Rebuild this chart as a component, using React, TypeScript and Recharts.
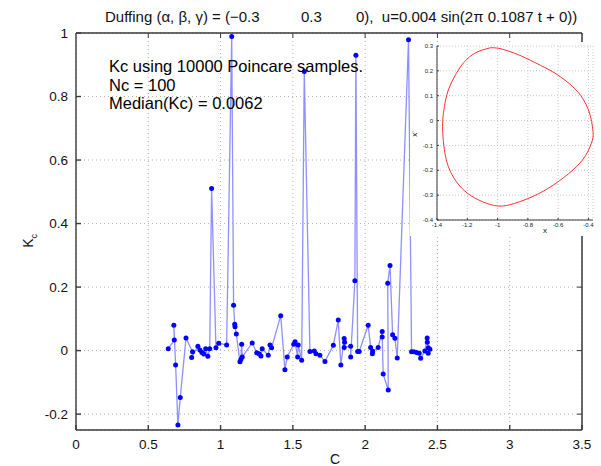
import { CartesianGrid, Line, LineChart, XAxis, YAxis } from "recharts";

const cValues = [
  0.638, 0.68, 0.677, 0.689, 0.705, 0.721, 0.761, 0.806, 0.8, 0.843, 0.857, 0.871, 0.884, 0.897,
  0.912, 0.925, 0.938, 0.968, 0.987, 1.042, 1.077, 1.09, 1.098, 1.1, 1.109, 1.134, 1.141, 1.146,
  1.15, 1.219, 1.25, 1.266, 1.279, 1.288, 1.33, 1.342, 1.353, 1.416, 1.445, 1.461, 1.506, 1.515,
  1.533, 1.537, 1.561, 1.579, 1.618, 1.648, 1.66, 1.687, 1.722, 1.78, 1.814, 1.832, 1.855, 1.858,
  1.855, 1.9, 1.9, 1.929, 1.936, 1.948, 1.959, 2.021, 2.038, 2.05, 2.052, 2.09, 2.118, 2.118,
  2.125, 2.16, 2.156, 2.172, 2.19, 2.206, 2.222, 2.3, 2.321, 2.337, 2.356, 2.374, 2.384, 2.413,
  2.429, 2.43, 2.437, 2.436, 2.448,
];
const kcValues = [
  0.006, 0.033, 0.08, -0.045, -0.234, -0.148, 0.04, -0.004, -0.022, 0.014, 0.002, -0.006, -0.011,
  0.006, -0.018, 0.006, 0.51, 0.009, 0.023, 0.018, 0.989, 0.143, 0.083, 0.075, 0.052, -0.035,
  -0.027, 0.02, -0.02, 0.024, -0.007, -0.01, -0.017, 0.006, -0.015, 0.018, 0.009, 0.11, -0.06,
  -0.02, 0.02, 0.028, -0.02, 0.018, -0.03, 0.879, -0.003, -0.001, -0.01, -0.015, -0.034, 0.017,
  0.096, -0.045, 0.038, 0.026, 0.01, 0.014, -0.02, 0.22, 0.93, -0.003, -0.003, 0.08, 0.01, -0.01,
  -0.002, 0.01, 0.06, 0.043, -0.074, -0.124, 0.212, 0.268, 0.05, 0.039, -0.023, 0.979, -0.004,
  -0.004, -0.006, -0.008, -0.024, -0.001, 0.04, 0.026, 0.009, -0.008, 0.004,
];
const cTicks = [0, 0.5, 1, 1.5, 2, 2.5, 3, 3.5];
const kcTicks = [-0.2, 0, 0.2, 0.4, 0.6, 0.8, 1];
const C_MAX = 3.5;
const KC_MIN = -0.25;
const KC_MAX = 1;

// inset: phase portrait (x, x')
const orbitX = [
  -1.047, -1.144, -1.218, -1.272, -1.325, -1.351, -1.362, -1.362, -1.351, -1.325, -1.272, -1.197,
  -1.101, -0.994, -0.887, -0.759, -0.631, -0.503, -0.417, -0.374, -0.37, -0.379, -0.4, -0.438,
  -0.503, -0.609, -0.716, -0.844, -0.93, -0.994, -1.047,
];
const orbitV = [
  0.293, 0.273, 0.237, 0.19, 0.123, 0.056, 0.002, -0.051, -0.118, -0.185, -0.246, -0.293, -0.326,
  -0.344, -0.333, -0.303, -0.259, -0.199, -0.139, -0.078, -0.044, -0.004, 0.043, 0.089, 0.136,
  0.186, 0.222, 0.26, 0.28, 0.291, 0.293,
];
const orbitXTicks = [-1.4, -1.2, -1, -0.8, -0.6, -0.4];
const orbitVTicks = [-0.4, -0.3, -0.2, -0.1, 0, 0.1, 0.2, 0.3];

const FONT = '"Liberation Sans", Arial, Helvetica, sans-serif';
const AXIS = "#3a3a3a";

// main chart layout
const W = 601;
const H = 466;
const M = { top: 33, right: 19, bottom: 6, left: 36 };
const Y_AXIS_W = 40;
const X_AXIS_H = 30;
const PLOT_L = M.left + Y_AXIS_W;
const PLOT_T = M.top;
const PLOT_W = W - PLOT_L - M.right;
const PLOT_H = H - PLOT_T - M.bottom - X_AXIS_H;

const kcData = cValues.map((c, i) => ({ c, kc: kcValues[i] }));
const orbitData = orbitX.map((x, i) => ({ x, v: orbitV[i] }));
const fmt = (v: number) => String(v);

// top/right edges of the MATLAB-style box, with inward ticks
function BoxFrame() {
  const R = PLOT_L + PLOT_W;
  return (
    <svg width={W} height={H} style={{ position: "absolute", left: 0, top: 0, pointerEvents: "none" }}>
      <g stroke={AXIS} fill="none">
        <line x1={PLOT_L} y1={PLOT_T} x2={R} y2={PLOT_T} strokeWidth={1.5} />
        <line x1={R} y1={PLOT_T} x2={R} y2={PLOT_T + PLOT_H} strokeWidth={1.5} />
        {cTicks.slice(1, -1).map((t) => {
          const x = PLOT_L + (t / C_MAX) * PLOT_W;
          return <line key={`t${t}`} x1={x} y1={PLOT_T} x2={x} y2={PLOT_T + 5} />;
        })}
        {kcTicks.slice(0, -1).map((t) => {
          const y = PLOT_T + ((KC_MAX - t) / (KC_MAX - KC_MIN)) * PLOT_H;
          return <line key={`r${t}`} x1={R} y1={y} x2={R - 5} y2={y} />;
        })}
      </g>
    </svg>
  );
}

function Inset() {
  return (
    <div style={{ position: "absolute", left: 410, top: 42, width: 191, height: 194, background: "#fff" }}>
      <LineChart width={191} height={194} data={orbitData} margin={{ top: 4, right: 8, bottom: 4, left: 7 }}>
        <CartesianGrid stroke="#c8c8c8" strokeDasharray="1 2" />
        <XAxis
          dataKey="x"
          type="number"
          domain={[-1.4, -0.4]}
          ticks={orbitXTicks}
          interval={0}
          tickFormatter={fmt}
          height={12}
          tickSize={-2}
          tickMargin={5}
          stroke={AXIS}
          tick={{ fontSize: 6, fill: "#222", fontFamily: FONT }}
        />
        <YAxis
          type="number"
          domain={[-0.4, 0.3]}
          ticks={orbitVTicks}
          interval={0}
          tickFormatter={fmt}
          width={20}
          tickSize={-2}
          tickMargin={6}
          stroke={AXIS}
          tick={{ fontSize: 6, fill: "#222", fontFamily: FONT }}
        />
        <Line dataKey="v" type="natural" stroke="#ff1a1a" strokeWidth={0.9} dot={false} isAnimationActive={false} />
      </LineChart>
      <div style={{ position: "absolute", left: 133, top: 185, fontSize: 8, lineHeight: 1, color: "#222" }}>x</div>
      <div
        style={{
          position: "absolute",
          left: 2,
          top: 88,
          fontSize: 8,
          lineHeight: 1,
          color: "#222",
          transform: "rotate(-90deg)",
        }}
      >
        x'
      </div>
    </div>
  );
}

export default function App() {
  return (
    <div
      style={{
        position: "absolute",
        left: 0,
        top: 0,
        width: W,
        height: H,
        background: "#fff",
        fontFamily: FONT,
        overflow: "hidden",
      }}
    >
      <LineChart width={W} height={H} data={kcData} margin={M}>
        <CartesianGrid stroke="#b0b0b0" strokeDasharray="1 3" />
        <XAxis
          dataKey="c"
          type="number"
          domain={[0, C_MAX]}
          ticks={cTicks}
          interval={0}
          tickFormatter={fmt}
          height={X_AXIS_H}
          tickSize={-5}
          tickMargin={14}
          stroke={AXIS}
          strokeWidth={1.4}
          tick={{ fontSize: 13.5, fill: "#111", fontFamily: FONT }}
        />
        <YAxis
          type="number"
          domain={[KC_MIN, KC_MAX]}
          ticks={kcTicks}
          interval={0}
          tickFormatter={fmt}
          width={Y_AXIS_W}
          tickSize={-5}
          tickMargin={13}
          stroke={AXIS}
          strokeWidth={1.4}
          tick={{ fontSize: 13.5, fill: "#111", fontFamily: FONT }}
        />
        <Line
          dataKey="kc"
          type="linear"
          stroke="#8f8fff"
          strokeWidth={1.3}
          dot={{ r: 2.5, fill: "#0000ff", stroke: "none" }}
          isAnimationActive={false}
        />
      </LineChart>

      <BoxFrame />

      <div style={{ position: "absolute", left: 0, top: 9, width: W, fontSize: 15, lineHeight: 1, color: "#111", whiteSpace: "pre" }}>
        <span style={{ position: "absolute", left: 105 }}>Duffing (α, β, γ) = (−0.3</span>
        <span style={{ position: "absolute", left: 301 }}>0.3</span>
        <span style={{ position: "absolute", left: 356 }}>0),  u=0.004 sin(2π 0.1087 t + 0))</span>
      </div>

      <div style={{ position: "absolute", left: 109, top: 57, fontSize: 16.5, lineHeight: "18.5px", color: "#000" }}>
        <div>Kc using 10000 Poincare samples.</div>
        <div>Nc = 100</div>
        <div>Median(Kc) = 0.0062</div>
      </div>

      <div style={{ position: "absolute", left: 330, top: 452, fontSize: 14, lineHeight: 1, color: "#111" }}>C</div>
      <div
        style={{
          position: "absolute",
          left: 23,
          top: 232,
          fontSize: 14,
          lineHeight: 1,
          color: "#111",
          transform: "rotate(-90deg)",
          whiteSpace: "nowrap",
        }}
      >
        K<sub style={{ fontSize: 9 }}>c</sub>
      </div>

      <Inset />
    </div>
  );
}
